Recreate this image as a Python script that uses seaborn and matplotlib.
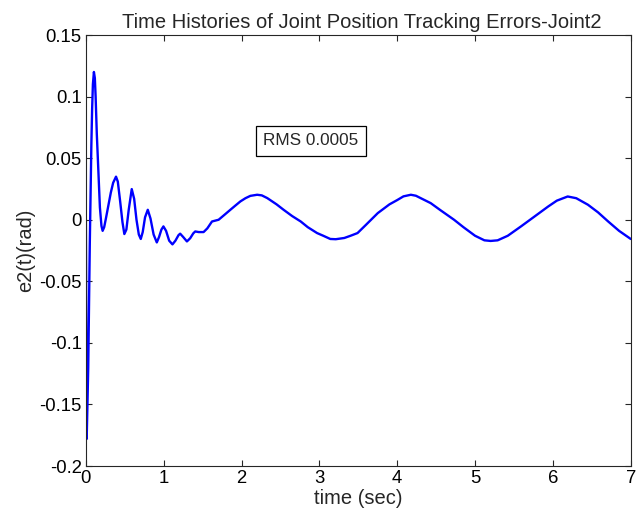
import matplotlib
matplotlib.use("Agg")
import matplotlib.pyplot as plt
import seaborn as sns
import pandas as pd

time_sec = [0.0, 0.01, 0.02, 0.03, 0.04, 0.05, 0.06, 0.07, 0.08, 0.09, 0.103, 0.115,
            0.125, 0.14, 0.16, 0.18, 0.20, 0.215, 0.235, 0.26, 0.29, 0.32, 0.35, 0.387,
            0.41, 0.44, 0.47, 0.494, 0.52, 0.55, 0.589, 0.62, 0.65, 0.68, 0.705, 0.73,
            0.76, 0.795, 0.83, 0.87, 0.911, 0.94, 0.97, 0.996, 1.03, 1.07, 1.112, 1.15,
            1.19, 1.211, 1.25, 1.298, 1.34, 1.38, 1.405, 1.45, 1.512, 1.56, 1.62, 1.705,
            1.78, 1.856, 1.92, 1.985, 2.05, 2.113, 2.2, 2.26, 2.33, 2.45, 2.54, 2.65,
            2.76, 2.85, 2.97, 3.05, 3.14, 3.21, 3.32, 3.4, 3.49, 3.6, 3.75, 3.9,
            4.0, 4.08, 4.175, 4.24, 4.30, 4.43, 4.55, 4.73, 4.85, 5.0, 5.12, 5.2,
            5.29, 5.42, 5.59, 5.75, 5.94, 6.05, 6.19, 6.3, 6.45, 6.58, 6.71, 6.85, 7.0]
e2_rad = [0.0, -0.178, -0.15, -0.12, -0.07, -0.02, 0.02, 0.06, 0.09, 0.11, 0.120, 0.115,
          0.10, 0.07, 0.04, 0.01, -0.005, -0.009, -0.006, 0.002, 0.012, 0.022, 0.030, 0.035,
          0.031, 0.015, -0.002, -0.0116, -0.008, 0.008, 0.0249, 0.017, 0.0, -0.012, -0.0156, -0.01,
          0.002, 0.0081, 0.001, -0.012, -0.0184, -0.014, -0.008, -0.0054, -0.009, -0.017, -0.020, -0.017,
          -0.0125, -0.0113, -0.014, -0.0176, -0.015, -0.011, -0.0095, -0.010, -0.010, -0.007, -0.0014, 0.0,
          0.004, 0.0081, 0.0115, 0.0149, 0.0175, 0.0194, 0.0203, 0.0198, 0.0176, 0.0125, 0.0081, 0.003,
          -0.0014, -0.006, -0.0108, -0.013, -0.0156, -0.0158, -0.0148, -0.013, -0.0108, -0.004, 0.0054, 0.0125,
          0.016, 0.019, 0.0203, 0.0195, 0.0176, 0.0135, 0.008, 0.0, -0.006, -0.013, -0.0167, -0.0172,
          -0.0167, -0.013, -0.0054, 0.002, 0.0108, 0.0155, 0.0189, 0.0175, 0.0122, 0.006, -0.0014, -0.009, -0.0156]

x_ticks = [0, 1, 2, 3, 4, 5, 6, 7]
y_ticks = [-0.2, -0.15, -0.1, -0.05, 0, 0.05, 0.1, 0.15]
y_tick_labels = ["-0.2", "-0.15", "-0.1", "-0.05", "0", "0.05", "0.1", "0.15"]
rms_text = "RMS 0.0005"

sns.set_style("ticks")
plt.rcParams["font.family"] = ["Liberation Sans", "DejaVu Sans"]

df = pd.DataFrame({"time": time_sec, "e2": e2_rad})

fig = plt.figure(figsize=(6.41, 5.15), dpi=100)
ax = fig.add_axes([0.134, 0.095, 0.850, 0.837])
sns.lineplot(data=df, x="time", y="e2", ax=ax, color="#0000ff", linewidth=1.7,
             estimator=None, sort=False)

ax.set_xlim(0, 7)
ax.set_ylim(-0.2, 0.15)
ax.set_xticks(x_ticks)
ax.set_xticklabels([str(v) for v in x_ticks])
ax.set_yticks(y_ticks)
ax.set_yticklabels(y_tick_labels)
ax.tick_params(direction="in", length=4, width=0.8, labelsize=13.3, top=True, right=True,
               colors="#262626", labelcolor="black", pad=3)
for s in ax.spines.values():
    s.set_visible(True)
    s.set_color("#262626")
    s.set_linewidth(0.8)

ax.set_xlabel("time (sec)", fontsize=14.5, labelpad=1)
ax.set_ylabel("e2(t)(rad)", fontsize=14.4, labelpad=3)
ax.set_title("Time Histories of Joint Position Tracking Errors-Joint2", fontsize=14.5, pad=5,
             x=0.507)

ax.text(2.89, 0.064, rms_text, fontsize=12.3, ha="center", va="center",
        bbox=dict(boxstyle="square,pad=0.45", facecolor="white", edgecolor="black", linewidth=0.9))

fig.savefig("out.png", dpi=100)
